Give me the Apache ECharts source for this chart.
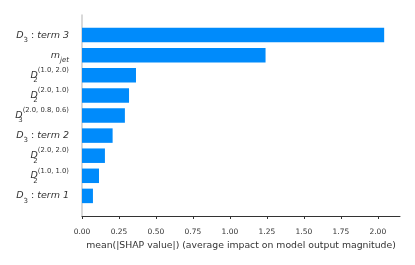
<!DOCTYPE html>
<html><head><meta charset="utf-8">
<script src="https://cdn.jsdelivr.net/npm/echarts@6/dist/echarts.min.js"></script>
<style>html,body{margin:0;padding:0;background:#fff}#c{width:415px;height:265px}</style>
</head><body><div id="c"></div>
<script>
// features listed top to bottom as in the picture
const features = [
  '{d|D}{sub|3}{n| : }{i|term 3}',
  '{i|m}{subi|jet}',
  '{d|D}{subz|2}{sup|(1.0, 2.0)}',
  '{d|D}{subz|2}{sup|(2.0, 1.0)}',
  '{d|D}{subz|3}{sup|(2.0, 0.8, 0.6)}',
  '{d|D}{sub|3}{n| : }{i|term 2}',
  '{d|D}{subz|2}{sup|(2.0, 2.0)}',
  '{d|D}{subz|2}{sup|(1.0, 1.0)}',
  '{d|D}{sub|3}{n| : }{i|term 1}'
];
const values = [2.043, 1.241, 0.365, 0.318, 0.290, 0.207, 0.155, 0.115, 0.074];
const xTicks = [0, 0.25, 0.5, 0.75, 1.0, 1.25, 1.5, 1.75, 2.0];
const xName = 'mean(|SHAP value|) (average impact on model output magnitude)';

// bottom-to-top with padding slots at both ends (ylim -1 .. n)
const cats = [''].concat(features.slice().reverse()).concat(['']);
const vals = [null].concat(values.slice().reverse()).concat([null]);

const F = 'DejaVu Sans';
const C = '#333333';
const chart = echarts.init(document.getElementById('c'), null, {renderer:'canvas'});
chart.setOption({
  animation:false,
  grid:{left:82, right:15, top:15, bottom:49, containLabel:false},
  xAxis:{
    type:'value', min:0, max:2.15,
    name:xName, nameLocation:'middle', nameGap:23,
    nameTextStyle:{fontFamily:F, fontSize:9.3, color:C},
    axisLine:{show:true, lineStyle:{color:'#333', width:1}},
    axisTick:{show:true, length:3, lineStyle:{color:'#333'}, customValues:xTicks},
    axisLabel:{fontFamily:F, fontSize:7.5, color:C, margin:12, customValues:xTicks,
      formatter:v=>v.toFixed(2)},
    splitLine:{show:false}
  },
  yAxis:{
    type:'category', data:cats, boundaryGap:false,
    axisLine:{show:true, lineStyle:{color:'#cccccc', width:1.5}},
    axisTick:{show:false},
    axisLabel:{
      interval:0, margin:13, color:C, fontFamily:F, fontSize:9.5, align:'right',
      rich:{
        d:{fontFamily:F, fontStyle:'italic', fontSize:9.5, color:C, lineHeight:17, verticalAlign:'middle'},
        i:{fontFamily:F, fontStyle:'italic', fontSize:9.5, color:C, lineHeight:17, verticalAlign:'middle'},
        n:{fontFamily:F, fontSize:9.5, color:C, lineHeight:17, verticalAlign:'middle'},
        sub:{fontFamily:F, fontSize:7, color:C, lineHeight:9.5, verticalAlign:'bottom'},
        subi:{fontFamily:F, fontStyle:'italic', fontSize:7, color:C, lineHeight:9.5, verticalAlign:'bottom'},
        subz:{fontFamily:F, fontSize:7, color:C, lineHeight:9.5, verticalAlign:'bottom', width:0.01},
        sup:{fontFamily:F, fontSize:6.8, color:C, lineHeight:9.5, verticalAlign:'top'}
      }
    },
    splitLine:{show:false}
  },
  series:[{
    type:'bar', data:vals, barWidth:14.5,
    itemStyle:{color:'#008bfb'}
  }]
});
</script></body></html>
